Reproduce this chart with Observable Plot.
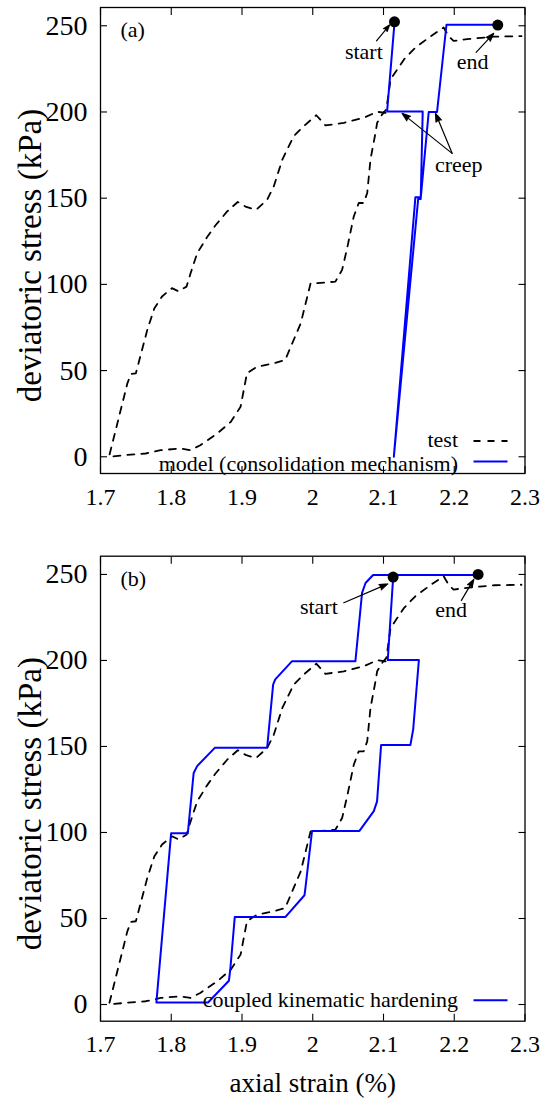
<!DOCTYPE html>
<html><head><meta charset="utf-8">
<script src="https://cdn.jsdelivr.net/npm/d3@7"></script>
<script src="https://cdn.jsdelivr.net/npm/@observablehq/plot@0.6"></script>
<style>
body{margin:0;background:#fff;}
#chart{width:551px;}
#chart svg{display:block;}
#chart svg text{font-family:'Liberation Serif','Times New Roman',serif;}
</style></head><body><div id="chart"></div>
<script>
// ---- test curve (same in both panels) ----
const testStrain = [2.103,2.091,2.072,2.044,2.018,2.005,1.987,1.973,1.957,1.945,1.9356,1.920,1.906,1.894,1.879,1.862,1.850,1.8366,1.827,1.8216,1.810,1.801,1.787,1.776,1.766,1.750,1.743,1.738,1.712,
  1.733,1.764,1.785,1.813,1.827,1.841,1.865,1.884,1.898,1.907,1.921,1.945,1.961,1.971,1.983,1.997,2.006,2.032,2.0415,2.0486,2.058,2.065,2.072,2.077,2.0816,2.0887,2.091,2.098,2.104,
  2.110,2.129,2.145,2.164,2.185,2.192,2.199,2.218,2.256,2.295];
const testStress = [199.5,200.1,196.6,193.7,192.2,198.1,191.7,185.9,172.4,156.9,149.1,143.3,144.9,147.8,142.3,134,127,118,106,98.7,96,97.8,93,86,73.4,48.4,48,42.6,0,
  0.9,1.9,3.8,4.8,3.8,6.7,13.5,20.2,29,48.4,52.2,54.2,56.1,65.8,77.4,100.7,100.7,101.6,108.4,121,139.4,147.2,147.2,153,172.4,187.9,193.7,198.5,201.5,
  218.9,230.5,237.3,243.1,249,244,241.2,242.2,243.7,244];

// ---- model (a): consolidation mechanism ----
const modelAStrain = [2.1155,2.1051,2.1554,2.1527,2.1451,2.1146,2.1490,2.1525,2.1639,2.1757,2.1890,2.2606];
const modelAStress = [251.5,200.3,200.3,150.6,150.6,0,149.5,149.5,200.0,200.0,250.6,250.6];

// ---- model (b): coupled kinematic hardening ----
const modelBStrain = [2.1136,2.106,2.150,2.142,2.138,2.0966,2.0909,2.0863,2.066,1.999,1.9897,1.9883,1.9615,1.8898,1.8837,1.8815,1.852,1.779,1.7998,1.8234,1.8317,1.8366,1.8615,1.9355,1.944,1.947,1.9708,2.0603,2.0697,2.0746,2.0853,2.2337];
const modelBStress = [248,200.2,200.2,160,150.8,150.8,118.1,112.4,100.9,100.9,67.9,63.5,50.9,50.9,21.5,13.8,1.2,1.2,99.5,99.5,134.6,138.6,149.2,149.2,186,189,199.6,199.6,239.3,245,249.7,249.7];

// ---- ticks ----
const xTicks = [1.7,1.8,1.9,2.0,2.1,2.2,2.3];
const xTickLabels = ["1.7","1.8","1.9","2","2.1","2.2","2.3"];
const yTicks = [0,50,100,150,200,250];

// ---- annotations ----
const labelsA = ["start","end","creep"];
const labelsAX = [2.0722,2.2261,2.2064];
const labelsAY = [234.9,229.1,169.2];
const arrowsAX1 = [2.0901,2.2309,2.1970,2.1970];
const arrowsAY1 = [241.3,234.6,176.0,176.0];
const arrowsAX2 = [2.1085,2.2558,2.1263,2.1735];
const arrowsAY2 = [250.4,245.6,199.2,199.2];
const dotsAX = [2.1155,2.2615];
const dotsAY = [252.3,250.4];

const labelsB = ["start","end"];
const labelsBX = [2.0086,2.1955];
const labelsBY = [231.0,229.1];
const arrowsBX1 = [2.0439,2.2101];
const arrowsBY1 = [233.5,234.9];
const arrowsBX2 = [2.1060,2.2276];
const arrowsBY2 = [244.5,247.1];
const dotsBX = [2.1136,2.2337];
const dotsBY = [248.5,250.0];

const seriesNames = ["test","model (consolidation mechanism)","coupled kinematic hardening"];

const zip = (xs, ys) => xs.map((x, i) => ({x, y: ys[i]}));
const testData = zip(testStrain, testStress);
const modelA = zip(modelAStrain, modelAStress);
const modelB = zip(modelBStrain, modelBStress);
const annA = labelsA.map((t, i) => ({t, x: labelsAX[i], y: labelsAY[i]}));
const annB = labelsB.map((t, i) => ({t, x: labelsBX[i], y: labelsBY[i]}));
const arrA = arrowsAX1.map((x1, i) => ({x1, y1: arrowsAY1[i], x2: arrowsAX2[i], y2: arrowsAY2[i]}));
const arrB = arrowsBX1.map((x1, i) => ({x1, y1: arrowsBY1[i], x2: arrowsBX2[i], y2: arrowsBY2[i]}));
const dA = zip(dotsAX, dotsAY);
const dB = zip(dotsBX, dotsBY);

const FONT = "Liberation Serif";
const lineSym = {draw(ctx) { ctx.moveTo(-17, 0); ctx.lineTo(17, 0); }};

function panel({height, marginTop, marginBottom, tag, model, ann, arr, dots, legend, xTitle}) {
  const legendMarks = legend.map((it) => [
    Plot.text([it.name], {frameAnchor: "bottom-right", dx: -67, dy: it.dy, textAnchor: "end", lineAnchor: "middle", fontSize: 22, fontFamily: FONT, fill: "black"}),
    Plot.dot([0], {frameAnchor: "bottom-right", dx: -34.5, dy: it.ly, symbol: lineSym, stroke: it.stroke, strokeWidth: it.sw, strokeDasharray: it.dash, fill: "none"})
  ]).flat();
  return Plot.plot({
    width: 551, height,
    marginLeft: 100, marginRight: 26.5, marginTop, marginBottom,
    style: {fontFamily: FONT, fontSize: "24px", color: "black", background: "white", overflow: "visible"},
    x: {domain: [1.7, 2.3]},
    y: {domain: [-9.7, 260.6]},
    marks: [
      Plot.axisX(xTicks, {anchor: "bottom", tickSize: -7, tickFormat: () => "", label: null, strokeWidth: 1.1}),
      Plot.axisX(xTicks, {anchor: "top", tickSize: -7, tickFormat: () => "", label: null, strokeWidth: 1.1}),
      Plot.axisX(xTicks, {anchor: "bottom", tickSize: 0, tickPadding: 14, tickFormat: (d, i) => xTickLabels[i], label: null, fontSize: 24, fontFamily: FONT, fontVariant: "normal"}),
      Plot.axisY(yTicks, {anchor: "left", tickSize: -7, tickFormat: () => "", label: null, strokeWidth: 1.1}),
      Plot.axisY(yTicks, {anchor: "right", tickSize: -7, tickFormat: () => "", label: null, strokeWidth: 1.1}),
      Plot.axisY(yTicks, {anchor: "left", tickSize: 0, tickPadding: 13, label: null, fontSize: 28, fontFamily: FONT, fontVariant: "normal"}),
      Plot.frame({stroke: "black", strokeWidth: 1.3}),
      Plot.line(testData, {x: "x", y: "y", stroke: "black", strokeWidth: 1.8, strokeDasharray: "7,7"}),
      Plot.line(model, {x: "x", y: "y", stroke: "#0000ff", strokeWidth: 2}),
      Plot.dot(dots, {x: "x", y: "y", r: 5.5, fill: "black"}),
      Plot.arrow(arr, {x1: "x1", y1: "y1", x2: "x2", y2: "y2", stroke: "black", fill: "black", strokeWidth: 1.2, headLength: 11, headAngle: 38}),
      Plot.text(ann, {x: "x", y: "y", text: "t", fontSize: 22, fontFamily: FONT, fill: "black"}),
      Plot.text([tag], {frameAnchor: "top-left", dx: 20, dy: 14, textAnchor: "start", lineAnchor: "top", fontSize: 22, fontFamily: FONT, fill: "black"}),
      Plot.text(["deviatoric stress (kPa)"], {frameAnchor: "left", textAnchor: "middle", rotate: -90, dx: -70, dy: 15, lineAnchor: "middle", fontSize: 33, fontFamily: FONT, fill: "black"}),
      ...(xTitle ? [Plot.text([xTitle], {frameAnchor: "bottom", textAnchor: "middle", dy: 62, lineAnchor: "middle", fontSize: 27, fontFamily: FONT, fill: "black"})] : []),
      ...legendMarks
    ]
  });
}

const chart = document.getElementById("chart");
chart.append(panel({
  height: 530, marginTop: 7, marginBottom: 57, tag: "(a)", model: modelA, ann: annA, arr: arrA, dots: dA,
  legend: [
    {name: seriesNames[0], dy: -34, ly: -32.5, stroke: "black", sw: 1.8, dash: "7,7"},
    {name: seriesNames[1], dy: -10, ly: -12, stroke: "#0000ff", sw: 2, dash: null}
  ]
}));
chart.append(panel({
  height: 576, marginTop: 25.7, marginBottom: 85.3, tag: "(b)", model: modelB, ann: annB, arr: arrB, dots: dB,
  legend: [
    {name: seriesNames[2], dy: -21, ly: -21, stroke: "#0000ff", sw: 2, dash: null}
  ],
  xTitle: "axial strain (%)"
}));
</script>
</body></html>
